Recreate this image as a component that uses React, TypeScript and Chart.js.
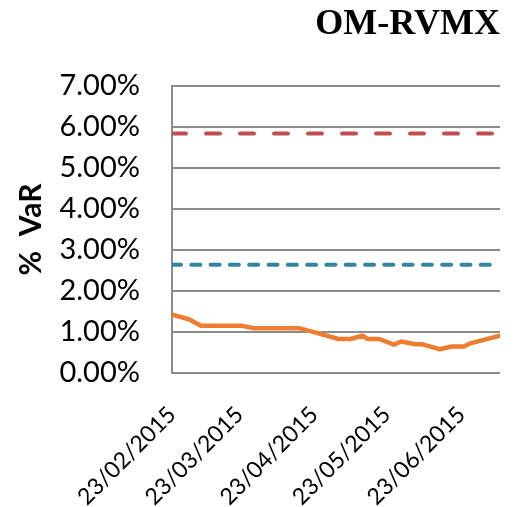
import React, { useEffect, useRef } from "react";
import { Chart, registerables } from "chart.js";

Chart.register(...registerables);

const chartTitle = "OM-RVMX";
const yAxisTitle = "%  VaR";
const yMin = 0;
const yMax = 7;
const yStep = 1;
const xTickLabels = ["23/02/2015", "23/03/2015", "23/04/2015", "23/05/2015", "23/06/2015"];
const startDate = "2015-02-23";
const endDate = "2015-07-09";

const varDates = [
  "2015-02-23", "2015-03-02", "2015-03-07", "2015-03-24", "2015-03-29",
  "2015-04-17", "2015-04-24", "2015-05-03", "2015-05-08", "2015-05-13",
  "2015-05-15", "2015-05-20", "2015-05-26", "2015-05-29", "2015-06-04",
  "2015-06-07", "2015-06-14", "2015-06-19", "2015-06-24", "2015-06-27",
  "2015-07-09",
];
const varValues = [
  1.42, 1.31, 1.15, 1.15, 1.09,
  1.09, 0.98, 0.83, 0.83, 0.91,
  0.83, 0.83, 0.69, 0.77, 0.70,
  0.70, 0.58, 0.645, 0.645, 0.73,
  0.91,
];
const redLimit = 5.84;
const tealLimit = 2.64;

const DAY = 86400000;
const isoToTime = (s: string) => {
  const [y, m, d] = s.split("-").map(Number);
  return Date.UTC(y, m - 1, d);
};
const dmyToTime = (s: string) => {
  const [d, m, y] = s.split("/").map(Number);
  return Date.UTC(y, m - 1, d);
};
const t0 = isoToTime(startDate);
const dayOf = (t: number) => Math.round((t - t0) / DAY);
const xMaxDay = dayOf(isoToTime(endDate));
const xTickDays = xTickLabels.map((l) => dayOf(dmyToTime(l)));

export default function App() {
  const canvasRef = useRef<HTMLCanvasElement | null>(null);

  useEffect(() => {
    document.body.style.margin = "0";
    const canvas = canvasRef.current;
    if (!canvas) return;
    const gridColor = "#8c8c8c";

    const chart = new Chart(canvas, {
      type: "line",
      data: {
        datasets: [
          {
            label: "VaR",
            data: varDates.map((d, i) => ({ x: dayOf(isoToTime(d)), y: varValues[i] })),
            borderColor: "#ED7D31",
            borderWidth: 4.5,
            pointRadius: 0,
            tension: 0,
            borderCapStyle: "round",
            borderJoinStyle: "round",
          },
          {
            label: "Limit",
            data: [
              { x: 0, y: redLimit },
              { x: xMaxDay, y: redLimit },
            ],
            borderColor: "#C0504D",
            borderWidth: 4,
            borderDash: [14, 20],
            borderCapStyle: "round",
            pointRadius: 0,
          },
          {
            label: "Alert",
            data: [
              { x: 0, y: tealLimit },
              { x: xMaxDay, y: tealLimit },
            ],
            borderColor: "#31859C",
            borderWidth: 4,
            borderDash: [9, 10.3],
            borderCapStyle: "round",
            pointRadius: 0,
          },
        ],
      },
      options: {
        responsive: false,
        animation: false,
        layout: { padding: { left: 0, right: 18, top: 0, bottom: 0 } },
        plugins: {
          legend: { display: false },
          tooltip: { enabled: false },
          title: {
            display: true,
            text: chartTitle,
            align: "end",
            color: "#000000",
            font: { family: "'Liberation Serif', serif", size: 36, weight: "bold" },
            padding: { top: 3.4, bottom: 39.4 },
          },
        },
        scales: {
          x: {
            type: "linear",
            min: 0,
            max: xMaxDay,
            grid: { display: false, drawTicks: false },
            border: { display: false },
            afterBuildTicks: (scale: any) => {
              scale.ticks = xTickDays.map((v) => ({ value: v }));
            },
            afterFit: (scale: any) => {
              scale.height = 134;
            },
            ticks: {
              autoSkip: false,
              maxRotation: 45,
              minRotation: 45,
              padding: 28,
              color: "#000000",
              font: { family: "Lato, sans-serif", size: 23 },
              callback: (_v: any, i: number) => xTickLabels[i],
            },
          },
          y: {
            min: yMin,
            max: yMax,
            grid: { color: gridColor, lineWidth: 2, drawTicks: false },
            border: { display: true, color: gridColor, width: 2 },
            afterFit: (scale: any) => {
              scale.width = 172;
            },
            ticks: {
              stepSize: yStep,
              padding: 32,
              color: "#000000",
              font: { family: "Lato, sans-serif", size: 29 },
              callback: (v: any) => Number(v).toFixed(2) + "%",
            },
            title: {
              display: true,
              text: yAxisTitle,
              color: "#000000",
              font: { family: "Lato, sans-serif", size: 30, weight: "bold" },
              padding: { top: 13, bottom: 0 },
            },
          },
        },
      },
    } as any);

    return () => chart.destroy();
  }, []);

  return (
    <div style={{ width: 518, height: 507 }}>
      <canvas ref={canvasRef} width={518} height={507} style={{ display: "block" }} />
    </div>
  );
}
